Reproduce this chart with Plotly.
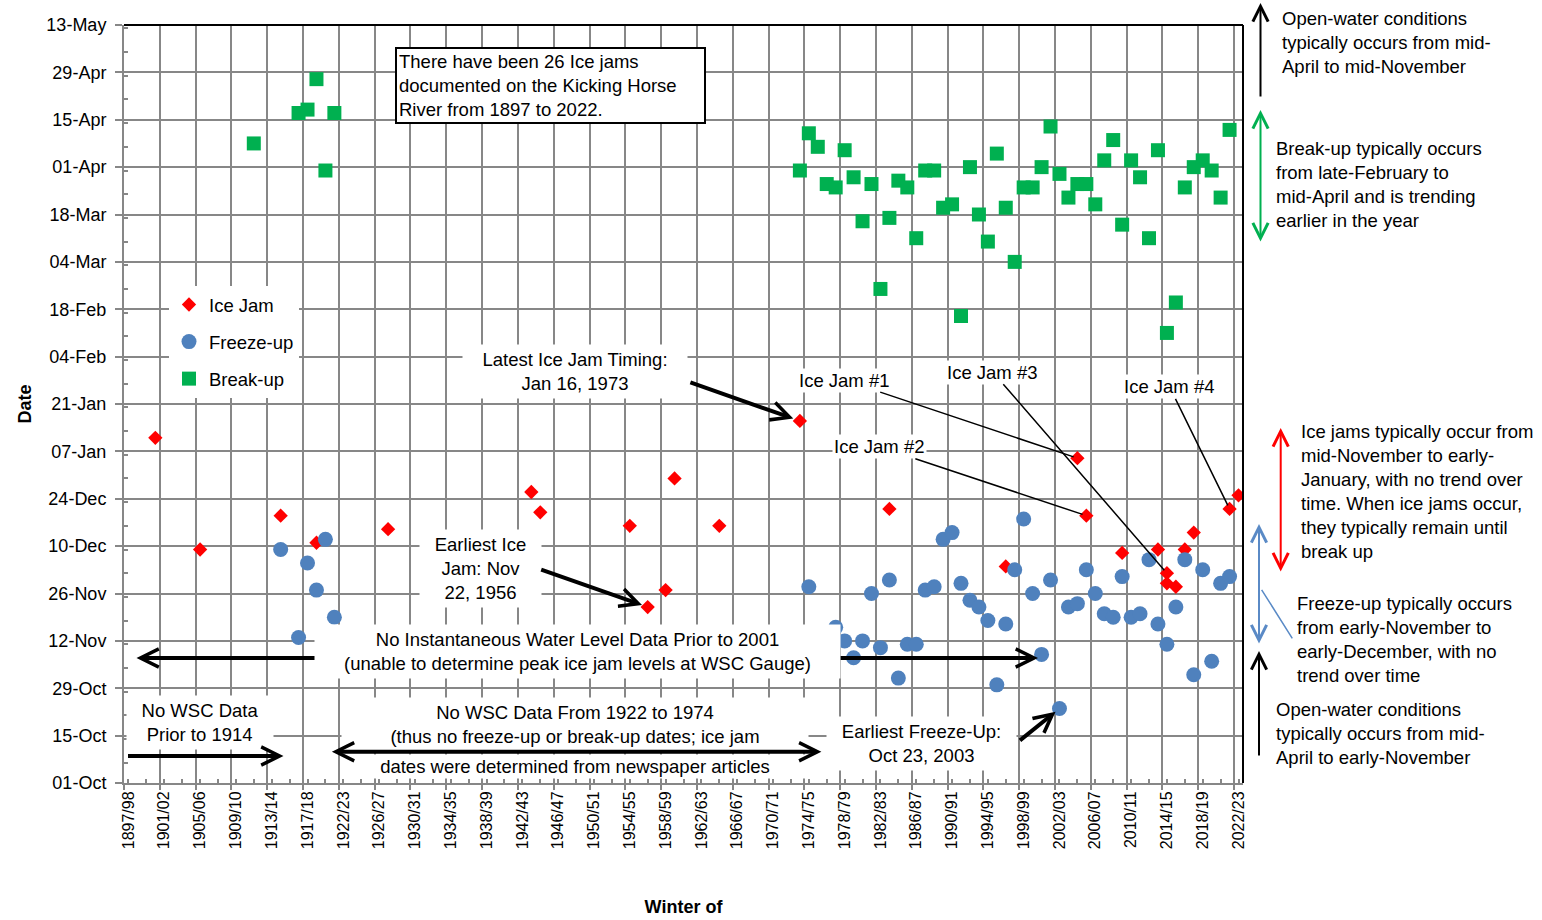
import datetime as dt
import plotly.graph_objects as go

FONT = "Liberation Sans, Arial, sans-serif"
GRID = "#878787"

# ---------------- data ----------------
# winters on the category axis (1918/19 is not on the chart's axis)
winters = [f"{y}/{str(y + 1)[-2:]}" for y in range(1897, 2023) if y != 1918]
tick_labels = ["1897/98", "1901/02", "1905/06", "1909/10", "1913/14", "1917/18",
               "1922/23", "1926/27", "1930/31", "1934/35", "1938/39", "1942/43",
               "1946/47", "1950/51", "1954/55", "1958/59", "1962/63", "1966/67",
               "1970/71", "1974/75", "1978/79", "1982/83", "1986/87", "1990/91",
               "1994/95", "1998/99", "2002/03", "2006/07", "2010/11", "2014/15",
               "2018/19", "2022/23"]

ice_jam_winters = ["1900/01", "1905/06", "1914/15", "1919/20", "1927/28", "1943/44",
                   "1944/45", "1954/55", "1956/57", "1958/59", "1959/60", "1964/65",
                   "1973/74", "1983/84", "1996/97", "2004/05", "2005/06", "2009/10",
                   "2013/14", "2014/15", "2014/15", "2015/16", "2016/17", "2017/18",
                   "2021/22", "2022/23"]
ice_jam_dates = ["Jan 11", "Dec 09", "Dec 19", "Dec 11", "Dec 15", "Dec 26",
                 "Dec 20", "Dec 16", "Nov 22", "Nov 27", "Dec 30", "Dec 16",
                 "Jan 16", "Dec 21", "Dec 04", "Jan 05", "Dec 19", "Dec 08",
                 "Dec 09", "Dec 02", "Nov 29", "Nov 28", "Dec 09", "Dec 14",
                 "Dec 21", "Dec 25"]

freeze_winters = ["1914/15", "1916/17", "1917/18", "1919/20", "1920/21", "1921/22",
                  "1974/75", "1977/78", "1978/79", "1979/80", "1980/81", "1981/82",
                  "1982/83", "1983/84", "1984/85", "1985/86", "1986/87", "1987/88",
                  "1988/89", "1989/90", "1990/91", "1991/92", "1992/93", "1993/94",
                  "1994/95", "1995/96", "1996/97", "1997/98", "1998/99", "1999/00",
                  "2000/01", "2001/02", "2002/03", "2003/04", "2004/05", "2005/06",
                  "2006/07", "2007/08", "2008/09", "2009/10", "2010/11", "2011/12",
                  "2012/13", "2013/14", "2014/15", "2015/16", "2016/17", "2017/18",
                  "2018/19", "2019/20", "2020/21", "2021/22"]
freeze_dates = ["Dec 09", "Nov 13", "Dec 05", "Nov 27", "Dec 12", "Nov 19",
                "Nov 28", "Nov 16", "Nov 12", "Nov 07", "Nov 12", "Nov 26",
                "Nov 10", "Nov 30", "Nov 01", "Nov 11", "Nov 11", "Nov 27",
                "Nov 28", "Dec 12", "Dec 14", "Nov 29", "Nov 24", "Nov 22",
                "Nov 18", "Oct 30", "Nov 17", "Dec 03", "Dec 18", "Nov 26",
                "Nov 08", "Nov 30", "Oct 23", "Nov 22", "Nov 23", "Dec 03",
                "Nov 26", "Nov 20", "Nov 19", "Dec 01", "Nov 19", "Nov 20",
                "Dec 06", "Nov 17", "Nov 11", "Nov 22", "Dec 06", "Nov 02",
                "Dec 03", "Nov 06", "Nov 29", "Dec 01"]

breakup_winters = ["1911/12", "1916/17", "1917/18", "1919/20", "1920/21", "1921/22",
                   "1973/74", "1974/75", "1975/76", "1976/77", "1977/78", "1978/79",
                   "1979/80", "1980/81", "1981/82", "1982/83", "1983/84", "1984/85",
                   "1985/86", "1986/87", "1987/88", "1988/89", "1989/90", "1990/91",
                   "1991/92", "1992/93", "1993/94", "1994/95", "1995/96", "1996/97",
                   "1997/98", "1998/99", "1999/00", "2000/01", "2001/02", "2002/03",
                   "2003/04", "2004/05", "2005/06", "2006/07", "2007/08", "2008/09",
                   "2009/10", "2010/11", "2011/12", "2012/13", "2013/14", "2014/15",
                   "2015/16", "2016/17", "2017/18", "2018/19", "2019/20", "2020/21",
                   "2021/22"]
breakup_dates = ["Apr 08", "Apr 17", "Apr 18", "Apr 27", "Mar 31", "Apr 17",
                 "Mar 31", "Apr 11", "Apr 07", "Mar 27", "Mar 26", "Apr 06",
                 "Mar 29", "Mar 16", "Mar 27", "Feb 24", "Mar 17", "Mar 28",
                 "Mar 26", "Mar 11", "Mar 31", "Mar 31", "Mar 20", "Mar 21",
                 "Feb 16", "Apr 01", "Mar 18", "Mar 10", "Apr 05", "Mar 20",
                 "Mar 04", "Mar 26", "Mar 26", "Apr 01", "Apr 13", "Mar 30",
                 "Mar 23", "Mar 27", "Mar 27", "Mar 21", "Apr 03", "Apr 09",
                 "Mar 15", "Apr 03", "Mar 29", "Mar 11", "Apr 06", "Feb 11",
                 "Feb 20", "Mar 26", "Apr 01", "Apr 03", "Mar 31", "Mar 23",
                 "Apr 12"]


def season_date(s):
    d = dt.datetime.strptime(s, "%b %d")
    year = 2001 if d.month >= 9 else 2002
    return f"{year}-{d.month:02d}-{d.day:02d}"


# ---------------- figure ----------------
fig = go.Figure()
fig.add_trace(go.Scatter(x=ice_jam_winters, y=[season_date(s) for s in ice_jam_dates],
                         mode="markers", name="Ice Jam", legendgroup="a",
                         marker=dict(symbol="diamond", size=11, color="#FF0000")))
fig.add_trace(go.Scatter(x=freeze_winters, y=[season_date(s) for s in freeze_dates],
                         mode="markers", name="Freeze-up", legendgroup="b",
                         marker=dict(symbol="circle", size=15, color="#4F81BD")))
fig.add_trace(go.Scatter(x=breakup_winters, y=[season_date(s) for s in breakup_dates],
                         mode="markers", name="Break-up", legendgroup="c",
                         marker=dict(symbol="square", size=14, color="#00B050")))
# empty helper trace so the boundary grid axis (x2) is drawn
fig.add_trace(go.Scatter(x=[], y=[], xaxis="x2", yaxis="y", mode="markers",
                         showlegend=False, hoverinfo="skip"))

L, T, W, H = 124, 25, 1119, 758


def px(xp):
    return (xp - L) / W


def py(yp):
    return (T + H - yp) / H


TF = dict(family=FONT, size=18.5, color="black")
ann = []

# thick double arrow under the "No Instantaneous" box
ann.append(dict(xref="paper", yref="paper", x=px(1038), y=py(658), ax=-903, ay=0,
                text="", showarrow=True, arrowhead=5, startarrowhead=5,
                arrowside="end+start", arrowwidth=4, arrowsize=0.9, startarrowsize=0.9,
                arrowcolor="black"))


def box(text, xc, yc, width, pad=4, **kw):
    d = dict(xref="paper", yref="paper", x=px(xc), y=py(yc), text=text,
             showarrow=False, font=TF, bgcolor="white", borderpad=pad, width=width,
             xanchor="center", yanchor="middle", align="center")
    d.update(kw)
    return d


ann.append(dict(xref="paper", yref="paper", x=px(395), y=py(47), xanchor="left",
                yanchor="top", align="left", width=303, borderpad=2,
                text="There have been 26 Ice jams<br>documented on the Kicking Horse<br>River from 1897 to 2022.",
                showarrow=False, font=TF, bgcolor="white", bordercolor="black",
                borderwidth=2))
ann.append(box("Latest Ice Jam Timing:<br>Jan 16, 1973", 575, 371.5, 216))
ann.append(box("Earliest Ice<br>Jam: Nov<br>22, 1956", 480, 568, 113))
ann.append(box("No Instantaneous Water Level Data Prior to 2001<br>(unable to determine peak ice jam levels at WSC Gauge)",
               577, 651, 517))
ann.append(box("No WSC Data<br>Prior to 1914", 200, 722, 138))
ann.append(box("No WSC Data From 1922 to 1974<br>(thus no freeze-up or break-up dates; ice jam",
               575, 724, 458))
ann.append(box("dates were determined from newspaper articles", 575, 766, 458, pad=1))
ann.append(box("Earliest Freeze-Up:<br>Oct 23, 2003", 921, 743.5, 181))

# thick arrows
ann.append(dict(xref="paper", yref="paper", x=px(283.5), y=py(756), ax=-157, ay=0,
                text="", showarrow=True, arrowhead=5, arrowwidth=4, arrowsize=0.9,
                arrowcolor="black"))
ann.append(dict(xref="paper", yref="paper", x=px(821.4), y=py(751.7), ax=-491, ay=0,
                text="", showarrow=True, arrowhead=5, startarrowhead=5,
                arrowside="end+start", arrowwidth=4, arrowsize=0.9, startarrowsize=0.9,
                arrowcolor="black"))
ann.append(dict(xref="x", yref="y", x="1973/74", y=season_date("Jan 16"), ax=-111, ay=-39,
                text="", showarrow=True, arrowhead=5, arrowwidth=4, arrowsize=0.9,
                arrowcolor="black", standoff=7))
ann.append(dict(xref="x", yref="y", x="1956/57", y=season_date("Nov 22"), ax=-108, ay=-38,
                text="", showarrow=True, arrowhead=5, arrowwidth=4, arrowsize=0.9,
                arrowcolor="black", standoff=6))
ann.append(dict(xref="x", yref="y", x="2002/03", y=season_date("Oct 23"), ax=-41, ay=33,
                text="", showarrow=True, arrowhead=5, arrowwidth=4, arrowsize=0.9,
                arrowcolor="black", standoff=5))

# Ice jam leader labels
for label, w, d, axp, ayp in [("Ice Jam #1", "2004/05", "Jan 05", -233, -78),
                              ("Ice Jam #2", "2005/06", "Dec 19", -207, -69),
                              ("Ice Jam #3", "2014/15", "Dec 02", -174, -201),
                              ("Ice Jam #4", "2021/22", "Dec 21", -60, -122)]:
    ann.append(dict(xref="x", yref="y", x=w, y=season_date(d), ax=axp, ay=ayp,
                    text=label, showarrow=True, arrowhead=0, arrowwidth=1.5,
                    arrowcolor="black", font=TF, bgcolor="white", borderpad=1,
                    standoff=4))

# right-hand explanations
for text, xl, yc in [
    ("Open-water conditions<br>typically occurs from mid-<br>April to mid-November", 1280, 42),
    ("Break-up typically occurs<br>from late-February to<br>mid-April and is trending<br>earlier in the year", 1274, 184.5),
    ("Ice jams typically occur from<br>mid-November to early-<br>January, with no trend over<br>time. When ice jams occur,<br>they typically remain until<br>break up", 1299, 491),
    ("Freeze-up typically occurs<br>from early-November to<br>early-December, with no<br>trend over time", 1295, 639.5),
    ("Open-water conditions<br>typically occurs from mid-<br>April to early-November", 1274, 733),
]:
    ann.append(dict(xref="paper", yref="paper", x=px(xl), y=py(yc), xanchor="left",
                    yanchor="middle", align="left", text=text, showarrow=False, font=TF))

for xh, yh, dy, col, both in [(1260.5, 3, 95, "black", False),
                              (1260.5, 110, 133, "#00B050", True),
                              (1280.7, 428, 145, "#FF0000", True),
                              (1259, 524, 121, "#5A8AC6", True),
                              (1259, 651, 106, "black", False)]:
    a = dict(xref="paper", yref="paper", x=px(xh), y=py(yh), ax=0, ay=dy, text="",
             showarrow=True, arrowhead=5, arrowwidth=2, arrowsize=1.5, arrowcolor=col)
    if both:
        a.update(arrowside="end+start", startarrowhead=5, startarrowsize=1.5)
    ann.append(a)
ann.append(dict(xref="paper", yref="paper", x=px(1292.3), y=py(638.3), ax=-31.6, ay=-50,
                text="", showarrow=True, arrowhead=0, arrowwidth=1.5, arrowcolor="#5A8AC6"))

fig.update_layout(
    width=1542, height=920, autosize=False,
    margin=dict(l=L, r=1542 - L - W, t=T, b=920 - T - H, pad=0, autoexpand=False),
    paper_bgcolor="white", plot_bgcolor="white",
    font=dict(family=FONT, color="black"),
    showlegend=True,
    legend=dict(x=px(169), y=py(286), xanchor="left", yanchor="top", bgcolor="white",
                borderwidth=0, font=dict(family=FONT, size=18.5), traceorder="grouped",
                tracegroupgap=10),
    xaxis=dict(type="category", categoryorder="array", categoryarray=winters,
               range=[-0.5, len(winters) - 0.5], tickmode="array", tickvals=tick_labels,
               ticktext=tick_labels, tickangle=-90, showgrid=False, ticks="",
               showline=True, linecolor=GRID, linewidth=2, zeroline=False, automargin=False,
               tickfont=dict(family=FONT, size=16),
               title=dict(text="<b>Winter of</b>", font=dict(family=FONT, size=18), standoff=52)),
    xaxis2=dict(overlaying="x", anchor="y", side="bottom", range=[-0.5, len(winters) - 0.5],
                tickmode="linear", tick0=-0.5, dtick=4, showgrid=True, gridcolor=GRID,
                gridwidth=2, ticks="outside", ticklen=6, tickwidth=2, tickcolor=GRID,
                showticklabels=False, showline=False, zeroline=False, automargin=False,
                minor=dict(dtick=2, ticks="inside", ticklen=4, tickwidth=1.5,
                           tickcolor=GRID, showgrid=False)),
    yaxis=dict(type="date", range=["2001-10-01", "2002-05-13"], tick0="2001-10-01",
               dtick=14 * 86400000, tickformat="%d-%b", showgrid=True, gridcolor=GRID,
               gridwidth=2, ticks="outside", ticklen=7, tickwidth=2, tickcolor=GRID,
               showline=True, linecolor=GRID, linewidth=2, zeroline=False, automargin=False,
               tickfont=dict(family=FONT, size=18), ticklabelstandoff=5,
               minor=dict(dtick=7 * 86400000, ticks="inside", ticklen=4, tickwidth=1.5,
                          tickcolor=GRID, showgrid=False),
               title=dict(text="<b>Date</b>", font=dict(family=FONT, size=18), standoff=10)),
    annotations=ann,
    shapes=[dict(type="line", xref="paper", yref="paper", x0=0, x1=1, y0=1, y1=1,
                 line=dict(color="black", width=2)),
            dict(type="line", xref="paper", yref="paper", x0=1, x1=1, y0=0, y1=1,
                 line=dict(color="black", width=2))],
)

fig.write_html("out.html", config={"displayModeBar": False},
               post_script="document.body.style.margin='0px';")
